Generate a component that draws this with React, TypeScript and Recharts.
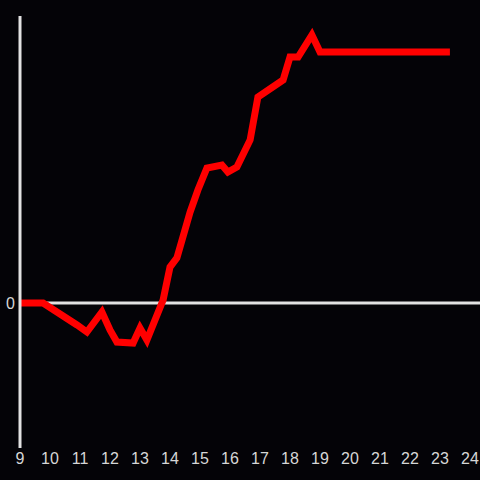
import { LineChart, Line, XAxis, YAxis, ReferenceLine } from "recharts"

const hours = [
  9, 9.77, 10.9, 11.23, 11.73, 12.0, 12.23, 12.77, 13.0, 13.23, 13.77, 14.0, 14.23,
  14.67, 14.93, 15.23, 15.73, 15.93, 16.23, 16.67, 16.93, 17.77, 18.0, 18.27, 18.73,
  19.0, 23.33,
]
const values = [
  0, 0, -22, -29, -9, -27, -39, -40, -25, -37, 3, 36, 45, 91, 113, 135, 138, 131,
  136, 163, 206, 223, 246, 246, 268, 251, 251,
]
const xTicks = [9, 10, 11, 12, 13, 14, 15, 16, 17, 18, 19, 20, 21, 22, 23, 24]

const data = hours.map((h, i) => ({ hour: h, value: values[i] }))

const BG = "#040307"
const AXIS = "#e2e2e2"
const TEXT = "#d6d6d6"
const FONT = "Liberation Sans, Arial, sans-serif"

export default function App() {
  return (
    <div style={{ position: "fixed", left: 0, top: 0, width: 480, height: 480, background: BG }}>
      <LineChart width={480} height={480} data={data} margin={{ top: 16, right: 0, bottom: 0, left: 0 }}>
        <XAxis
          dataKey="hour"
          type="number"
          domain={[9, 24.333]}
          ticks={xTicks}
          axisLine={false}
          tickLine={false}
          tickSize={4}
          height={32}
          tickMargin={1}
          interval={0}
          tick={{ fill: TEXT, fontSize: 16, fontFamily: FONT }}
        />
        <YAxis
          type="number"
          domain={[-145, 287]}
          ticks={[0]}
          width={20}
          axisLine={{ stroke: AXIS, strokeWidth: 3 }}
          tickLine={false}
          tickSize={0}
          tickMargin={5}
          tick={{ fill: TEXT, fontSize: 16, fontFamily: FONT }}
        />
        <ReferenceLine y={0} stroke={AXIS} strokeWidth={3} />
        <Line
          dataKey="value"
          stroke="#ff0000"
          strokeWidth={7}
          dot={false}
          strokeLinejoin="miter"
          isAnimationActive={false}
        />
      </LineChart>
    </div>
  )
}
